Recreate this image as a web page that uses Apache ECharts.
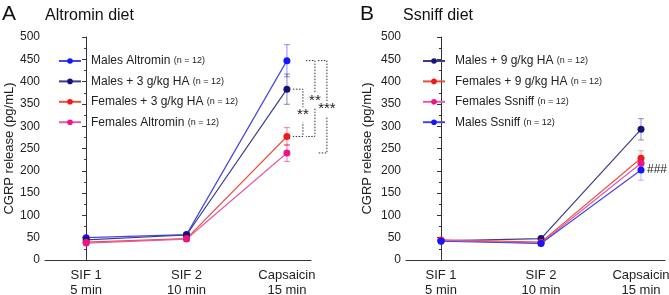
<!DOCTYPE html>
<html><head><meta charset="utf-8">
<script src="https://cdn.jsdelivr.net/npm/echarts@6/dist/echarts.min.js"></script>
<style>html,body{margin:0;padding:0;background:#fff}#c{width:669px;height:295px}</style>
</head><body><div id="c"></div>
<script>
// ---- data ----
const categories = ['SIF 1\n5 min', 'SIF 2\n10 min', 'Capsaicin\n15 min'];
const yTicks = [0, 50, 100, 150, 200, 250, 300, 350, 400, 450, 500];

// Panel A (Altromin diet)
const malesAltromin = [50, 57, 447];
const malesAltrominErr = [4, 4, 36];
const males3HA = [45, 56, 383];
const males3HAErr = [3, 4, 34];
const females3HA = [40, 48, 277];
const females3HAErr = [3, 3, 20];
const femalesAltromin = [38, 47, 240];
const femalesAltrominErr = [3, 3, 19];

// Panel B (Ssniff diet)
const males9HA = [43, 48, 293];
const males9HAErr = [3, 3, 24];
const females9HA = [45, 40, 228];
const females9HAErr = [3, 3, 17];
const femalesSsniff = [44, 38, 217];
const femalesSsniffErr = [3, 3, 15];
const malesSsniff = [42, 37, 202];
const malesSsniffErr = [3, 3, 23];

// significance brackets (between capsaicin values) panel A
const bracketsA = [
  { from: 383, to: 277, label: '**' },
  { from: 447, to: 277, label: '**' },
  { from: 447, to: 240, label: '***' }
];
const hashB = { value: 202, label: '###' };

// ---- styling ----
const FONT = 'Arial, "Liberation Sans", sans-serif';
const TXT = '#222';
const bracketOffsets = [[6, 16], [19, 28], [31, 40]];

function xy(arr) { return arr.map((v, i) => [i, v]); }

function lineSeries(name, data, idx, symColor, lineColor) {
  return {
    name: name, type: 'line', xAxisIndex: idx, yAxisIndex: idx,
    data: xy(data), symbol: 'circle', symbolSize: 7,
    itemStyle: { color: symColor },
    lineStyle: { color: lineColor, width: 1.2 },
    z: 3
  };
}
function errSeries(data, err, idx, color) {
  return {
    type: 'custom', xAxisIndex: idx, yAxisIndex: idx, z: 2, silent: true,
    data: data.map((v, i) => [i, v - err[i], v + err[i]]),
    renderItem: function (params, api) {
      const lo = api.coord([api.value(0), api.value(1)]);
      const hi = api.coord([api.value(0), api.value(2)]);
      const w = 3;
      return { type: 'group', children: [
        { type: 'line', shape: { x1: lo[0], y1: lo[1], x2: hi[0], y2: hi[1] }, style: { stroke: color, lineWidth: 1.2 } },
        { type: 'line', shape: { x1: lo[0] - w, y1: lo[1], x2: lo[0] + w, y2: lo[1] }, style: { stroke: color, lineWidth: 1.2 } },
        { type: 'line', shape: { x1: hi[0] - w, y1: hi[1], x2: hi[0] + w, y2: hi[1] }, style: { stroke: color, lineWidth: 1.2 } }
      ]};
    }
  };
}

function yAxis(idx) {
  return {
    gridIndex: idx, type: 'value', min: 0, max: 500, interval: 50,
    name: 'CGRP release (pg/mL)', nameLocation: 'middle', nameGap: idx === 0 ? 27 : 32,
    nameTextStyle: { fontFamily: FONT, fontSize: 13, color: TXT },
    axisLine: { show: true, lineStyle: { color: '#333', width: 1 } },
    axisTick: { show: true, length: 4, lineStyle: { color: '#333' } },
    minorTick: { show: true, splitNumber: 2, length: 2, lineStyle: { color: '#333' } },
    splitLine: { show: false },
    axisLabel: { fontFamily: FONT, fontSize: 12, color: TXT, margin: 5 }
  };
}
function xAxis(idx, min) {
  return {
    gridIndex: idx, type: 'value', min: min, max: 2.24,
    axisLine: { show: true, onZero: false, lineStyle: { color: '#333', width: 1 } },
    axisTick: { show: false },
    splitLine: { show: false },
    axisLabel: {
      customValues: [0, 1, 2],
      fontFamily: FONT, fontSize: 13, color: TXT, lineHeight: 15, margin: 8,
      formatter: function (v) { const i = Math.round(v); return Math.abs(v - i) < 1e-6 && categories[i] ? categories[i] : ''; }
    }
  };
}
function legend(left, names, pad) {
  return {
    orient: 'vertical', left: left, top: 55, padding: 0, itemWidth: 22, itemHeight: 7, itemGap: 8.4,
    data: names,
    formatter: function (n) { return '{a|' + n + '} {b|(n = 12)}'; },
    textStyle: {
      color: TXT, fontFamily: FONT, padding: [0, 0, 0, pad],
      rich: { a: { fontSize: 12, fontFamily: FONT, color: TXT, lineHeight: 14 }, b: { fontSize: 9, fontFamily: FONT, color: TXT, lineHeight: 14 } }
    }
  };
}

const chart = echarts.init(document.getElementById('c'), null, { renderer: 'canvas' });
const option = {
  backgroundColor: '#fff',
  animation: false,
  title: [
    { text: 'A', left: -3, top: -1, textStyle: { fontFamily: FONT, fontSize: 21, fontWeight: 'normal', color: '#111' } },
    { text: 'Altromin diet', left: 40, top: 3, textStyle: { fontFamily: FONT, fontSize: 16, fontWeight: 'normal', color: '#111' } },
    { text: 'B', left: 355, top: -1, textStyle: { fontFamily: FONT, fontSize: 21, fontWeight: 'normal', color: '#111' } },
    { text: 'Ssniff diet', left: 398, top: 3, textStyle: { fontFamily: FONT, fontSize: 16, fontWeight: 'normal', color: '#111' } }
  ],
  legend: [
    legend(58, ['Males Altromin', 'Males + 3 g/kg HA', 'Females + 3 g/kg HA', 'Females Altromin'], 5),
    legend(422, ['Males + 9 g/kg HA', 'Females + 9 g/kg HA', 'Females Ssniff', 'Males Ssniff'], 5)
  ],
  grid: [
    { left: 45, right: 358, top: 37, bottom: 35, outerBoundsMode: 'none', containLabel: false },
    { left: 406, right: 4, top: 37, bottom: 35, outerBoundsMode: 'none', containLabel: false }
  ],
  xAxis: [xAxis(0, -0.41), xAxis(1, -0.35)],
  yAxis: [yAxis(0), yAxis(1)],
  series: [
    errSeries(malesAltromin, malesAltrominErr, 0, 'rgba(80,80,255,0.55)'),
    errSeries(males3HA, males3HAErr, 0, 'rgba(60,60,140,0.5)'),
    errSeries(females3HA, females3HAErr, 0, 'rgba(240,60,60,0.5)'),
    errSeries(femalesAltromin, femalesAltrominErr, 0, 'rgba(236,30,140,0.5)'),
    lineSeries('Males Altromin', malesAltromin, 0, '#1515ff', '#4646e0'),
    lineSeries('Males + 3 g/kg HA', males3HA, 0, '#141478', '#3c3c8c'),
    lineSeries('Females + 3 g/kg HA', females3HA, 0, '#f01818', '#e8503c'),
    lineSeries('Females Altromin', femalesAltromin, 0, '#ec1487', '#e65aaa'),

    errSeries(males9HA, males9HAErr, 1, 'rgba(60,60,140,0.45)'),
    errSeries(females9HA, females9HAErr, 1, 'rgba(240,60,60,0.4)'),
    errSeries(femalesSsniff, femalesSsniffErr, 1, 'rgba(236,30,140,0.4)'),
    errSeries(malesSsniff, malesSsniffErr, 1, 'rgba(80,80,255,0.35)'),
    lineSeries('Males + 9 g/kg HA', males9HA, 1, '#141478', '#3c3c8c'),
    lineSeries('Females + 9 g/kg HA', females9HA, 1, '#f01818', '#e8503c'),
    lineSeries('Females Ssniff', femalesSsniff, 1, '#ec1487', '#e65aaa'),
    lineSeries('Males Ssniff', malesSsniff, 1, '#1515ff', '#4646e0'),

    {
      type: 'custom', xAxisIndex: 0, yAxisIndex: 0, z: 4, silent: true, clip: false,
      data: bracketsA.map(b => [2, b.from, b.to]),
      renderItem: function (params, api) {
        const b = bracketsA[params.dataIndex];
        const off = bracketOffsets[params.dataIndex];
        const p1 = api.coord([2, b.from]);
        const p2 = api.coord([2, b.to]);
        const x0 = p1[0] + off[0], x1 = p1[0] + off[1];
        return { type: 'group', children: [
          { type: 'polyline', shape: { points: [[x0, p1[1]], [x1, p1[1]], [x1, p2[1]], [x0, p2[1]]] },
            style: { stroke: '#333', lineWidth: 1, lineDash: [1.5, 1.5], fill: null } },
          { type: 'text', x: x1, y: (p1[1] + p2[1]) / 2 + 2,
            style: { text: b.label, fill: '#222', font: '15px ' + FONT, align: 'center', verticalAlign: 'middle', backgroundColor: '#fff' } }
        ]};
      }
    },
    {
      type: 'custom', xAxisIndex: 1, yAxisIndex: 1, z: 4, silent: true, clip: false,
      data: [[2, hashB.value]],
      renderItem: function (params, api) {
        const p = api.coord([2, hashB.value]);
        return { type: 'text', x: p[0] + 6, y: p[1],
          style: { text: hashB.label, fill: '#222', font: '12px ' + FONT, align: 'left', verticalAlign: 'middle' } };
      }
    }
  ]
};
chart.setOption(option);
</script>
</body></html>
